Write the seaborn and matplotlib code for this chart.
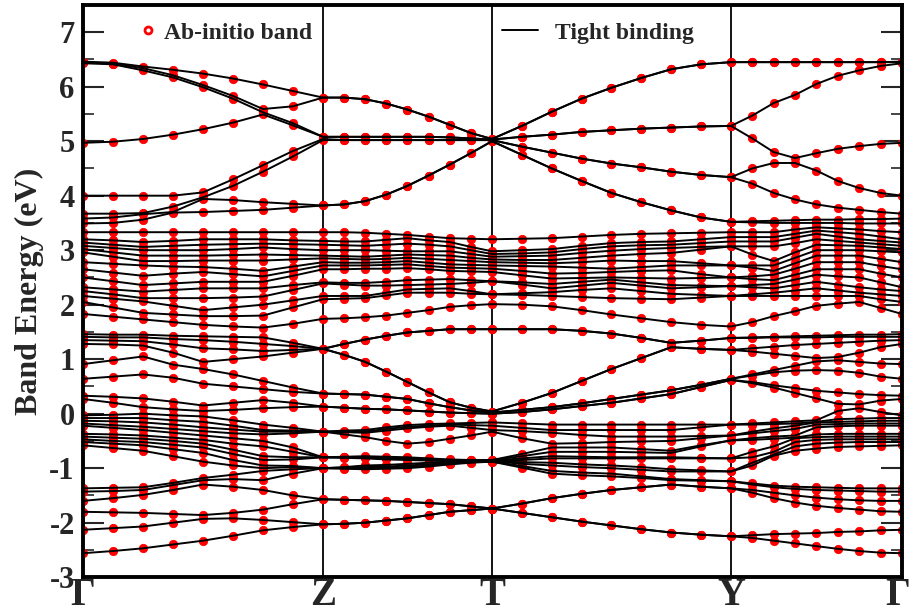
import numpy as np
import pandas as pd
import seaborn as sns
import matplotlib
matplotlib.use("Agg")
import matplotlib.pyplot as plt
import matplotlib.transforms as mtransforms
from matplotlib.lines import Line2D
from matplotlib.ticker import MultipleLocator

# ---------------- data ----------------
kpoint_labels = ["Γ", "Z", "T", "Y", "Γ"]
segment_lengths = [2.40, 1.69, 2.39, 1.71]      # k-path length of each segment
samples_per_segment = 8                          # k-points read per segment (+ final Γ)

# upper bands, one list per band, 33 k-points along Γ-Z-T-Y-Γ
upper_bands = [
    [6.45, 6.42, 6.37, 6.31, 6.24, 6.15, 6.04, 5.92, 5.80, 5.80, 5.77, 5.69, 5.58, 5.45, 5.30, 5.15, 5.04,
     5.28, 5.54, 5.78, 5.98, 6.16, 6.32, 6.41, 6.45, 6.45, 6.45, 6.45, 6.45, 6.45, 6.45, 6.45, 6.45],
    [6.46, 6.44, 6.34, 6.21, 6.03, 5.83, 5.59, 5.33, 5.08, 5.08, 5.08, 5.08, 5.08, 5.08, 5.07, 5.05, 5.03,
     5.28, 5.54, 5.78, 5.98, 6.16, 6.32, 6.41, 6.45, 6.45, 6.45, 6.45, 6.45, 6.45, 6.45, 6.45, 6.46],
    [6.43, 6.41, 6.30, 6.17, 5.99, 5.78, 5.53, 5.29, 5.04, 5.02, 5.02, 5.02, 5.02, 5.02, 5.02, 5.02, 5.02,
     5.08, 5.12, 5.17, 5.20, 5.23, 5.25, 5.27, 5.28, 5.47, 5.70, 5.85, 6.05, 6.20, 6.30, 6.38, 6.43],
    [4.97, 4.99, 5.04, 5.12, 5.22, 5.34, 5.49, 5.64, 5.80, 5.80, 5.77, 5.69, 5.58, 5.45, 5.30, 5.15, 5.04,
     5.08, 5.12, 5.17, 5.20, 5.23, 5.25, 5.27, 5.28, 5.05, 4.80, 4.60, 4.46, 4.27, 4.14, 4.05, 4.00],
    [4.00, 4.00, 4.00, 4.00, 3.97, 3.92, 3.88, 3.85, 3.82, 3.84, 3.90, 4.02, 4.18, 4.37, 4.57, 4.78, 5.00,
     4.90, 4.79, 4.68, 4.59, 4.52, 4.44, 4.38, 4.34, 4.50, 4.60, 4.69, 4.78, 4.86, 4.91, 4.95, 4.97],
    [3.67, 3.67, 3.68, 3.69, 3.70, 3.72, 3.74, 3.78, 3.82, 3.84, 3.90, 4.02, 4.18, 4.37, 4.57, 4.78, 5.00,
     4.90, 4.79, 4.68, 4.59, 4.52, 4.44, 4.38, 4.34, 4.22, 4.05, 3.93, 3.84, 3.78, 3.74, 3.70, 3.67],
    [3.58, 3.60, 3.66, 3.80, 4.06, 4.30, 4.56, 4.82, 5.08, 5.08, 5.08, 5.08, 5.08, 5.08, 5.07, 5.05, 5.03,
     4.75, 4.50, 4.27, 4.05, 3.88, 3.73, 3.60, 3.52, 3.53, 3.54, 3.55, 3.56, 3.56, 3.57, 3.57, 3.58],
    [3.49, 3.50, 3.56, 3.70, 3.94, 4.18, 4.44, 4.72, 5.02, 5.02, 5.02, 5.02, 5.02, 5.02, 5.02, 5.02, 5.02,
     4.75, 4.50, 4.27, 4.05, 3.88, 3.73, 3.60, 3.52, 3.51, 3.50, 3.50, 3.50, 3.50, 3.49, 3.49, 3.49],
]

# middle window (1.6 - 3.4 eV), one list of energies per k-point
middle_bands = [
    [1.83, 2.05, 2.16, 2.25, 2.32, 2.50, 2.65, 2.78, 2.96, 3.02, 3.08, 3.14, 3.20, 3.33],
    [1.78, 1.95, 2.11, 2.19, 2.28, 2.43, 2.59, 2.75, 2.88, 2.96, 3.04, 3.10, 3.18, 3.33],
    [1.73, 1.85, 2.06, 2.12, 2.24, 2.36, 2.53, 2.72, 2.80, 2.90, 3.00, 3.06, 3.15, 3.33],
    [1.68, 1.82, 1.98, 2.12, 2.27, 2.39, 2.57, 2.70, 2.80, 2.90, 3.00, 3.08, 3.17, 3.33],
    [1.63, 1.79, 1.90, 2.12, 2.30, 2.42, 2.60, 2.69, 2.81, 2.90, 3.00, 3.10, 3.20, 3.33],
    [1.60, 1.79, 1.95, 2.13, 2.30, 2.42, 2.56, 2.66, 2.81, 2.91, 3.02, 3.11, 3.20, 3.33],
    [1.58, 1.80, 2.00, 2.15, 2.30, 2.42, 2.52, 2.62, 2.81, 2.92, 3.05, 3.12, 3.20, 3.33],
    [1.65, 1.95, 2.08, 2.27, 2.36, 2.53, 2.62, 2.70, 2.83, 2.91, 3.02, 3.11, 3.18, 3.33],
    [1.74, 2.10, 2.16, 2.39, 2.41, 2.65, 2.72, 2.78, 2.85, 2.90, 3.00, 3.10, 3.17, 3.33],
    [1.75, 2.11, 2.16, 2.37, 2.40, 2.65, 2.72, 2.77, 2.84, 2.89, 3.00, 3.09, 3.16, 3.33],
    [1.77, 2.12, 2.16, 2.35, 2.40, 2.66, 2.72, 2.77, 2.83, 2.88, 3.00, 3.08, 3.16, 3.32],
    [1.80, 2.17, 2.22, 2.35, 2.42, 2.66, 2.73, 2.78, 2.84, 2.90, 2.99, 3.10, 3.19, 3.30],
    [1.85, 2.22, 2.28, 2.36, 2.45, 2.67, 2.74, 2.80, 2.86, 2.92, 2.98, 3.12, 3.22, 3.28],
    [1.90, 2.22, 2.29, 2.37, 2.46, 2.65, 2.71, 2.77, 2.84, 2.91, 2.98, 3.10, 3.18, 3.25],
    [1.96, 2.22, 2.30, 2.38, 2.47, 2.62, 2.68, 2.74, 2.82, 2.90, 2.98, 3.07, 3.15, 3.22],
    [1.99, 2.20, 2.25, 2.40, 2.45, 2.61, 2.67, 2.73, 2.80, 2.86, 2.93, 3.00, 3.06, 3.21],
    [2.01, 2.19, 2.19, 2.43, 2.43, 2.60, 2.66, 2.72, 2.78, 2.83, 2.88, 2.93, 2.98, 3.20],
    [2.00, 2.18, 2.21, 2.37, 2.41, 2.54, 2.62, 2.71, 2.77, 2.82, 2.89, 2.94, 3.00, 3.21],
    [1.97, 2.16, 2.23, 2.30, 2.38, 2.48, 2.57, 2.70, 2.76, 2.82, 2.90, 2.96, 3.02, 3.22],
    [1.90, 2.14, 2.27, 2.35, 2.42, 2.49, 2.58, 2.68, 2.78, 2.86, 2.95, 3.02, 3.08, 3.25],
    [1.82, 2.12, 2.30, 2.40, 2.46, 2.50, 2.60, 2.66, 2.81, 2.90, 2.99, 3.07, 3.13, 3.28],
    [1.75, 2.11, 2.25, 2.35, 2.41, 2.49, 2.62, 2.69, 2.80, 2.93, 3.02, 3.09, 3.15, 3.30],
    [1.68, 2.10, 2.20, 2.30, 2.36, 2.48, 2.63, 2.72, 2.80, 2.95, 3.04, 3.10, 3.16, 3.31],
    [1.63, 2.13, 2.18, 2.32, 2.35, 2.49, 2.56, 2.72, 2.76, 3.01, 3.06, 3.13, 3.20, 3.32],
    [1.60, 2.16, 2.16, 2.34, 2.34, 2.50, 2.50, 2.72, 2.72, 3.07, 3.07, 3.16, 3.24, 3.33],
    [1.68, 2.16, 2.19, 2.32, 2.36, 2.47, 2.52, 2.68, 2.72, 2.92, 3.07, 3.16, 3.24, 3.33],
    [1.79, 2.16, 2.22, 2.30, 2.38, 2.45, 2.55, 2.62, 2.72, 2.80, 3.07, 3.16, 3.24, 3.33],
    [1.88, 2.16, 2.26, 2.36, 2.46, 2.55, 2.66, 2.76, 2.86, 2.96, 3.13, 3.23, 3.30, 3.38],
    [1.98, 2.16, 2.30, 2.42, 2.55, 2.65, 2.78, 2.90, 3.00, 3.10, 3.20, 3.30, 3.36, 3.42],
    [2.02, 2.16, 2.26, 2.37, 2.52, 2.65, 2.78, 2.90, 3.00, 3.09, 3.17, 3.25, 3.33, 3.40],
    [2.05, 2.16, 2.22, 2.32, 2.50, 2.65, 2.78, 2.90, 3.00, 3.08, 3.14, 3.20, 3.30, 3.38],
    [1.94, 2.10, 2.19, 2.28, 2.41, 2.57, 2.71, 2.84, 2.98, 3.05, 3.11, 3.17, 3.25, 3.35],
    [1.83, 2.05, 2.16, 2.25, 2.32, 2.50, 2.65, 2.78, 2.96, 3.02, 3.08, 3.14, 3.20, 3.33],
]

# lower window (-2.6 - 1.6 eV), one list of energies per k-point
lower_bands = [
    [-2.56, -2.13, -1.80, -1.60, -1.43, -1.37, -0.58, -0.52, -0.47, -0.42, -0.37, -0.22,
     -0.18, -0.13, -0.08, -0.03, 0.27, 0.33, 0.64, 0.91, 1.28, 1.35, 1.41, 1.46],
    [-2.52, -2.10, -1.81, -1.55, -1.42, -1.36, -0.63, -0.55, -0.50, -0.44, -0.38, -0.26,
     -0.21, -0.14, -0.08, -0.02, 0.20, 0.31, 0.68, 0.98, 1.27, 1.34, 1.40, 1.45],
    [-2.47, -2.07, -1.82, -1.49, -1.40, -1.35, -0.68, -0.58, -0.52, -0.46, -0.40, -0.30,
     -0.24, -0.16, -0.08, 0.00, 0.12, 0.28, 0.72, 1.05, 1.25, 1.33, 1.40, 1.45],
    [-2.40, -2.00, -1.84, -1.40, -1.31, -1.27, -0.78, -0.65, -0.57, -0.50, -0.44, -0.35,
     -0.28, -0.20, -0.12, -0.03, 0.08, 0.22, 0.66, 0.90, 1.12, 1.27, 1.37, 1.43],
    [-2.33, -1.93, -1.86, -1.30, -1.22, -1.18, -0.88, -0.72, -0.62, -0.55, -0.48, -0.40,
     -0.32, -0.25, -0.15, -0.05, 0.05, 0.15, 0.55, 0.82, 0.95, 1.20, 1.35, 1.42],
    [-2.24, -1.92, -1.82, -1.34, -1.20, -1.12, -0.95, -0.85, -0.74, -0.66, -0.55, -0.45,
     -0.36, -0.29, -0.22, -0.12, 0.07, 0.20, 0.50, 0.72, 1.00, 1.18, 1.32, 1.41],
    [-2.14, -1.95, -1.76, -1.40, -1.22, -1.05, -1.00, -0.95, -0.85, -0.78, -0.60, -0.50,
     -0.38, -0.33, -0.30, -0.20, 0.10, 0.25, 0.45, 0.60, 1.05, 1.15, 1.28, 1.40],
    [-2.08, -1.99, -1.66, -1.50, -1.10, -1.02, -0.98, -0.96, -0.84, -0.80, -0.70, -0.62,
     -0.36, -0.33, -0.31, -0.26, 0.12, 0.20, 0.40, 0.48, 1.12, 1.17, 1.24, 1.30],
    [-2.03, -2.03, -1.57, -1.57, -1.00, -1.00, -1.00, -1.00, -0.80, -0.80, -0.80, -0.80,
     -0.33, -0.33, -0.33, -0.33, 0.13, 0.13, 0.37, 0.37, 1.19, 1.19, 1.19, 1.19],
    [-2.02, -2.02, -1.58, -1.58, -1.01, -1.00, -0.99, -0.98, -0.81, -0.80, -0.80, -0.79,
     -0.38, -0.34, -0.33, -0.31, 0.11, 0.11, 0.36, 0.36, 1.08, 1.08, 1.28, 1.28],
    [-2.00, -2.00, -1.59, -1.59, -1.02, -1.00, -0.98, -0.95, -0.82, -0.80, -0.80, -0.78,
     -0.43, -0.35, -0.33, -0.30, 0.09, 0.09, 0.35, 0.35, 0.95, 0.95, 1.36, 1.36],
    [-1.96, -1.96, -1.60, -1.60, -1.01, -0.99, -0.97, -0.94, -0.84, -0.82, -0.81, -0.79,
     -0.50, -0.31, -0.28, -0.25, 0.08, 0.08, 0.31, 0.31, 0.77, 0.77, 1.43, 1.43],
    [-1.92, -1.92, -1.62, -1.62, -1.00, -0.98, -0.95, -0.92, -0.85, -0.83, -0.82, -0.80,
     -0.55, -0.27, -0.24, -0.21, 0.06, 0.06, 0.27, 0.27, 0.58, 0.58, 1.49, 1.49],
    [-1.86, -1.86, -1.64, -1.64, -0.97, -0.95, -0.93, -0.90, -0.86, -0.85, -0.84, -0.82,
     -0.52, -0.24, -0.22, -0.19, 0.04, 0.04, 0.19, 0.19, 0.39, 0.39, 1.52, 1.52],
    [-1.80, -1.80, -1.66, -1.66, -0.93, -0.92, -0.90, -0.88, -0.87, -0.86, -0.85, -0.84,
     -0.46, -0.22, -0.20, -0.18, 0.02, 0.02, 0.12, 0.12, 0.21, 0.21, 1.55, 1.55],
    [-1.77, -1.77, -1.70, -1.70, -0.90, -0.89, -0.88, -0.87, -0.86, -0.86, -0.85, -0.85,
     -0.40, -0.26, -0.21, -0.17, 0.01, 0.01, 0.06, 0.06, 0.11, 0.11, 1.55, 1.55],
    [-1.74, -1.74, -1.74, -1.74, -0.88, -0.88, -0.87, -0.87, -0.86, -0.86, -0.85, -0.85,
     -0.33, -0.30, -0.22, -0.16, 0.00, 0.00, 0.02, 0.02, 0.04, 0.04, 1.55, 1.55],
    [-1.82, -1.82, -1.65, -1.65, -0.99, -0.96, -0.92, -0.89, -0.85, -0.82, -0.78, -0.74,
     -0.45, -0.32, -0.26, -0.18, 0.03, 0.03, 0.07, 0.07, 0.20, 0.20, 1.55, 1.55],
    [-1.90, -1.90, -1.55, -1.55, -1.10, -1.05, -0.95, -0.90, -0.82, -0.78, -0.70, -0.62,
     -0.55, -0.35, -0.30, -0.20, 0.08, 0.08, 0.12, 0.12, 0.38, 0.38, 1.55, 1.55],
    [-1.98, -1.98, -1.47, -1.47, -1.13, -1.08, -0.98, -0.93, -0.82, -0.79, -0.70, -0.62,
     -0.54, -0.39, -0.30, -0.20, 0.14, 0.14, 0.19, 0.19, 0.60, 0.60, 1.52, 1.52],
    [-2.05, -2.05, -1.40, -1.40, -1.15, -1.10, -1.00, -0.95, -0.82, -0.80, -0.70, -0.62,
     -0.52, -0.42, -0.30, -0.20, 0.20, 0.20, 0.27, 0.27, 0.82, 0.82, 1.47, 1.47],
    [-2.12, -2.12, -1.35, -1.35, -1.18, -1.15, -1.03, -0.98, -0.82, -0.80, -0.71, -0.65,
     -0.51, -0.42, -0.30, -0.20, 0.28, 0.28, 0.35, 0.35, 1.02, 1.02, 1.39, 1.39],
    [-2.18, -2.18, -1.30, -1.30, -1.22, -1.20, -1.06, -1.02, -0.82, -0.80, -0.72, -0.68,
     -0.50, -0.42, -0.30, -0.20, 0.36, 0.36, 0.43, 0.43, 1.22, 1.22, 1.30, 1.30],
    [-2.22, -2.22, -1.34, -1.34, -1.23, -1.22, -1.06, -1.04, -0.82, -0.81, -0.60, -0.58,
     -0.45, -0.41, -0.25, -0.20, 0.49, 0.49, 0.53, 0.53, 1.19, 1.19, 1.34, 1.34],
    [-2.25, -2.25, -1.37, -1.37, -1.24, -1.24, -1.06, -1.06, -0.82, -0.82, -0.49, -0.49,
     -0.40, -0.40, -0.20, -0.20, 0.62, 0.62, 0.64, 0.64, 1.17, 1.17, 1.39, 1.39],
    [-2.28, -2.23, -1.45, -1.40, -1.30, -1.28, -0.95, -0.90, -0.80, -0.70, -0.48, -0.45,
     -0.36, -0.33, -0.20, -0.18, 0.56, 0.58, 0.70, 0.72, 1.14, 1.20, 1.39, 1.40],
    [-2.33, -2.21, -1.55, -1.45, -1.35, -1.32, -0.77, -0.75, -0.70, -0.60, -0.46, -0.42,
     -0.32, -0.27, -0.19, -0.16, 0.48, 0.52, 0.76, 0.80, 1.10, 1.23, 1.40, 1.41],
    [-2.38, -2.20, -1.63, -1.50, -1.38, -1.34, -0.45, -0.68, -0.60, -0.52, -0.44, -0.40,
     -0.28, -0.22, -0.18, -0.14, 0.38, 0.47, 0.79, 0.88, 1.06, 1.26, 1.40, 1.42],
    [-2.43, -2.19, -1.69, -1.54, -1.40, -1.35, -0.15, -0.64, -0.55, -0.48, -0.43, -0.38,
     -0.25, -0.20, -0.16, -0.12, 0.28, 0.42, 0.80, 0.96, 1.02, 1.28, 1.40, 1.43],
    [-2.48, -2.17, -1.73, -1.57, -1.41, -1.36, 0.05, -0.61, -0.53, -0.47, -0.42, -0.37,
     -0.23, -0.19, -0.15, -0.10, 0.18, 0.39, 0.79, 1.04, 0.98, 1.30, 1.41, 1.44],
    [-2.52, -2.16, -1.76, -1.59, -1.42, -1.37, 0.17, -0.60, -0.52, -0.47, -0.42, -0.37,
     -0.22, -0.18, -0.14, -0.09, 0.10, 0.36, 0.75, 1.12, 0.95, 1.32, 1.41, 1.45],
    [-2.55, -2.14, -1.79, -1.60, -1.43, -1.37, 0.24, -0.59, -0.52, -0.47, -0.42, -0.37,
     -0.22, -0.18, -0.13, -0.08, 0.03, 0.34, 0.68, 1.22, 0.92, 1.34, 1.41, 1.45],
    [-2.56, -2.13, -1.80, -1.60, -1.43, -1.37, -0.58, -0.52, -0.47, -0.42, -0.37, -0.22,
     -0.18, -0.13, -0.08, -0.03, 0.27, 0.33, 0.64, 0.91, 1.28, 1.35, 1.41, 1.46],
]

# ---------------- build table ----------------
nodes = np.concatenate([[0.0], np.cumsum(segment_lengths)])
k_samples = []
for start, length in zip(nodes[:-1], segment_lengths):
    for i in range(samples_per_segment):
        k_samples.append(start + length * i / samples_per_segment)
k_samples.append(nodes[-1])

rows = []
for j, k in enumerate(k_samples):
    energies = sorted([b[j] for b in upper_bands] + middle_bands[j] + lower_bands[j])
    for i, e in enumerate(energies):
        rows.append({"band": i, "k": k, "E": e})
df = pd.DataFrame(rows)

# ---------------- plot ----------------
sns.set_theme(style="ticks")
plt.rcParams["font.family"] = ["Liberation Serif", "DejaVu Serif"]
plt.rcParams["font.weight"] = "bold"

fig = plt.figure(figsize=(9.12, 6.16), dpi=100)
ax = fig.add_axes([0.091, 0.063, 0.898, 0.929])

for x in nodes[1:-1]:
    ax.axvline(x, color="black", lw=1.3, zorder=1)

sns.scatterplot(data=df, x="k", y="E", color="red", s=36, edgecolor="red",
                linewidth=0.6, zorder=2, ax=ax, legend=False)
sns.lineplot(data=df, x="k", y="E", units="band", estimator=None, sort=False,
             color="black", lw=1.4, zorder=3, ax=ax, legend=False)

ax.set_xlim(nodes[0], nodes[-1])
ax.set_ylim(-3, 7.5)
ax.set_xticks(nodes)
ax.set_xticklabels(kpoint_labels, fontsize=28, fontweight="bold")
ax.set_yticks(range(-3, 8))
ax.set_yticklabels([str(v) for v in range(-3, 8)], fontsize=22, fontweight="bold")
ax.yaxis.set_minor_locator(MultipleLocator(0.5))
ax.tick_params(axis="x", length=0, pad=0)
ax.tick_params(axis="y", which="major", direction="in", length=15, width=1.5,
               left=True, right=True, pad=6)
ax.tick_params(axis="y", which="minor", direction="in", length=8, width=1.2,
               left=True, right=True)
last = ax.get_xticklabels()[-1]
last.set_transform(last.get_transform() +
                   mtransforms.ScaledTranslation(-4 / 100, 0, fig.dpi_scale_trans))
ax.set_xlabel("")
ax.set_ylabel("Band Energy (eV)", fontsize=23, fontweight="bold", labelpad=4)
for s in ax.spines.values():
    s.set_linewidth(2.8)
    s.set_color("black")

h1 = Line2D([], [], ls="none", marker="o", markersize=5, markerfacecolor="none",
            markeredgecolor="red", markeredgewidth=2)
h2 = Line2D([], [], color="black", lw=1.4)
leg_font = {"family": "Liberation Serif", "weight": "bold", "size": 17}
leg1 = ax.legend([h1], ["Ab-initio band"], loc="center left",
                 bbox_to_anchor=(0.0653, 0.951), frameon=False, borderpad=0,
                 borderaxespad=0, handlelength=1.0, handletextpad=0.15, prop=leg_font)
ax.add_artist(leg1)
ax.legend([h2], ["Tight binding"], loc="center left",
          bbox_to_anchor=(0.5116, 0.951), frameon=False, borderpad=0,
          borderaxespad=0, handlelength=1.53, handletextpad=0.7, prop=leg_font)

fig.savefig("out.png", dpi=100)
